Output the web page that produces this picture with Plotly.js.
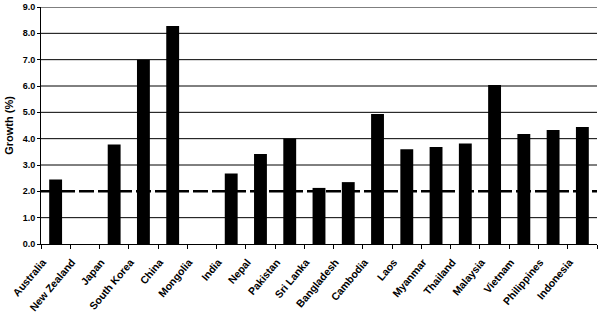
<!DOCTYPE html>
<html><head><meta charset="utf-8">
<script src="https://cdn.plot.ly/plotly-3.0.1.min.js"></script>
<style>html,body{margin:0;padding:0;background:#fff}#chart{width:599px;height:320px}</style>
</head><body><div id="chart"></div>
<script>
const countries = ["Australia","New Zealand","Japan","South Korea","China","Mongolia","India","Nepal","Pakistan","Sri Lanka","Bangladesh","Cambodia","Laos","Myanmar","Thailand","Malaysia","Vietnam","Philippines","Indonesia"];
const growth = [2.45,null,3.78,7.0,8.28,null,2.68,3.42,4.01,2.13,2.35,4.94,3.6,3.68,3.82,6.04,4.18,4.33,4.44];
const refLine = 2.0;
const yTicks = [0,1,2,3,4,5,6,7,8,9];

const font = {family:"Arial, 'Liberation Sans', sans-serif", color:"#000", size:10, weight:"bold"};
const gridShapes = yTicks.filter(v => v !== refLine && v !== 0).map(v => ({
  type:"line", xref:"paper", x0:0, x1:1, yref:"y", y0:v, y1:v,
  line:{color:"#000", width:1}, layer:"below"}));
Plotly.newPlot("chart",[{
  type:"bar", x:countries, y:growth, marker:{color:"#000", line:{width:0}}, hoverinfo:"skip"
}],{
  width:599, height:320,
  margin:{l:41,r:2,t:7,b:76},
  paper_bgcolor:"#fff", plot_bgcolor:"#fff",
  bargap:0.56, showlegend:false,
  xaxis:{type:"category", tickangle:-50, tickfont:Object.assign({},font,{size:10.5}),
    ticklabelshift:-13, ticklabelstandoff:7,
    showline:true, linecolor:"#000", linewidth:1, ticks:"outside", ticklen:4, tickcolor:"#000",
    tickson:"boundaries", showgrid:false, zeroline:false},
  yaxis:{range:[0,9], tickvals:yTicks, ticktext:yTicks.map(v=>v.toFixed(1)),
    tickfont:Object.assign({},font,{size:9}),
    showline:true, linecolor:"#000", linewidth:1, ticks:"outside", ticklen:3, tickcolor:"#000",
    showgrid:false, zeroline:false,
    title:{text:"Growth (%)", font:Object.assign({},font,{size:11}), standoff:6}},
  shapes:gridShapes.concat([
    {type:"line", xref:"paper", x0:0, x1:1, yref:"y", y0:refLine, y1:refLine,
      line:{color:"#000", width:2.5, dash:"15px,4px"}, layer:"below"}])
},{staticPlot:true, displayModeBar:false});
</script></body></html>
